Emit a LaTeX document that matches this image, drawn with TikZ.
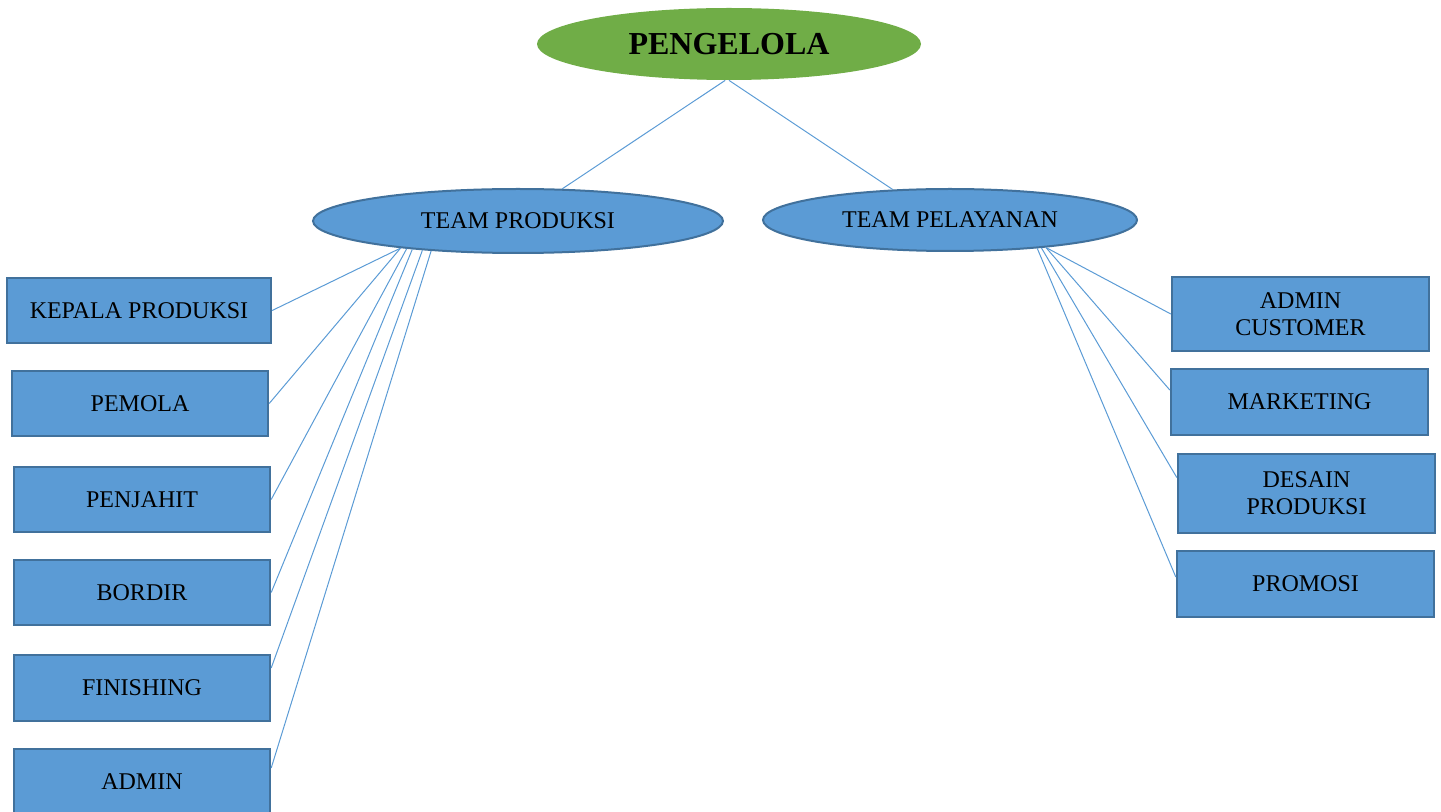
\documentclass[tikz,border=0pt]{standalone}
\usepackage{fontspec}
\setmainfont{Liberation Serif}
\usetikzlibrary{shapes}

\definecolor{boxblue}{HTML}{5B9BD5}
\definecolor{boxline}{HTML}{41719C}
\definecolor{topgreen}{HTML}{70AD47}

\tikzset{
    topnode/.style={ellipse, fill=topgreen, minimum width=192pt, minimum height=36pt, inner sep=1pt, font=\fontsize{16}{19}\selectfont\bfseries},
    teamnode/.style={ellipse, draw=boxline, line width=1pt, fill=boxblue, minimum height=32pt, inner sep=1pt, text depth=0pt, font=\fontsize{12}{14}\selectfont},
    jobbox/.style={rectangle, draw=boxline, line width=1.2pt, fill=boxblue, minimum width=128pt, minimum height=32.5pt, align=center, font=\fontsize{12}{13.5}\selectfont},
    link/.style={draw=boxblue, line width=0.5pt}
}

\begin{document}
\begin{tikzpicture}[x=0.5pt, y=-0.5pt]
                \useasboundingbox (0,0) rectangle (1441,812);
                \node[topnode] (pengelola) at (729,44) {PENGELOLA};
                \node[teamnode, minimum width=205pt] (produksi) at (518,221) {TEAM PRODUKSI};
                \node[teamnode, minimum width=187pt, minimum height=31pt] (pelayanan) at (950,220) {TEAM PELAYANAN};

                \node[jobbox, minimum width=132pt] (kepala) at (139,310.5) {KEPALA PRODUKSI};
                \node[jobbox] (pemola) at (140,403.5) {PEMOLA};
                \node[jobbox] (penjahit) at (142,499.5) {PENJAHIT};
                \node[jobbox] (bordir) at (142,592.5) {BORDIR};
                \node[jobbox, minimum height=33pt] (finishing) at (142,688) {FINISHING};
                \node[jobbox, minimum height=33pt] (admin) at (142,782) {ADMIN};

                \node[jobbox, minimum width=128.5pt, minimum height=37pt] (admcust) at (1300.5,314) {ADMIN\\CUSTOMER};
                \node[jobbox, minimum width=128.5pt, minimum height=33pt] (marketing) at (1299.5,402) {MARKETING};
                \node[jobbox, minimum width=128.5pt, minimum height=39.5pt] (desain) at (1306.5,493.5) {DESAIN\\PRODUKSI};
                \node[jobbox, minimum width=128.5pt, minimum height=33pt] (promosi) at (1305.5,584) {PROMOSI};

                % top level
                \draw[link] (pengelola.264) -- (produksi.36);
                \draw[link] (pengelola.south) -- (pelayanan.152);

                % team produksi
                \draw[link] (produksi.193) -- (kepala.east);
                \draw[link] (produksi.193.5) -- (pemola.east);
                \draw[link] (produksi.194) -- (penjahit.east);
                \draw[link] (produksi.195.5) -- (bordir.east);
                \draw[link] (produksi.197) -- ([yshift=10pt]finishing.east);
                \draw[link] (produksi.199) -- ([yshift=7pt]admin.east);

                % team pelayanan
                \draw[link] (pelayanan.344.7) -- (admcust.west);
                \draw[link] (pelayanan.344.3) -- ([yshift=6pt]marketing.west);
                \draw[link] (pelayanan.343.9) -- ([yshift=8pt]desain.west);
                \draw[link] (pelayanan.342.3) -- ([yshift=3.5pt]promosi.west);
            \end{tikzpicture}
\end{document}
